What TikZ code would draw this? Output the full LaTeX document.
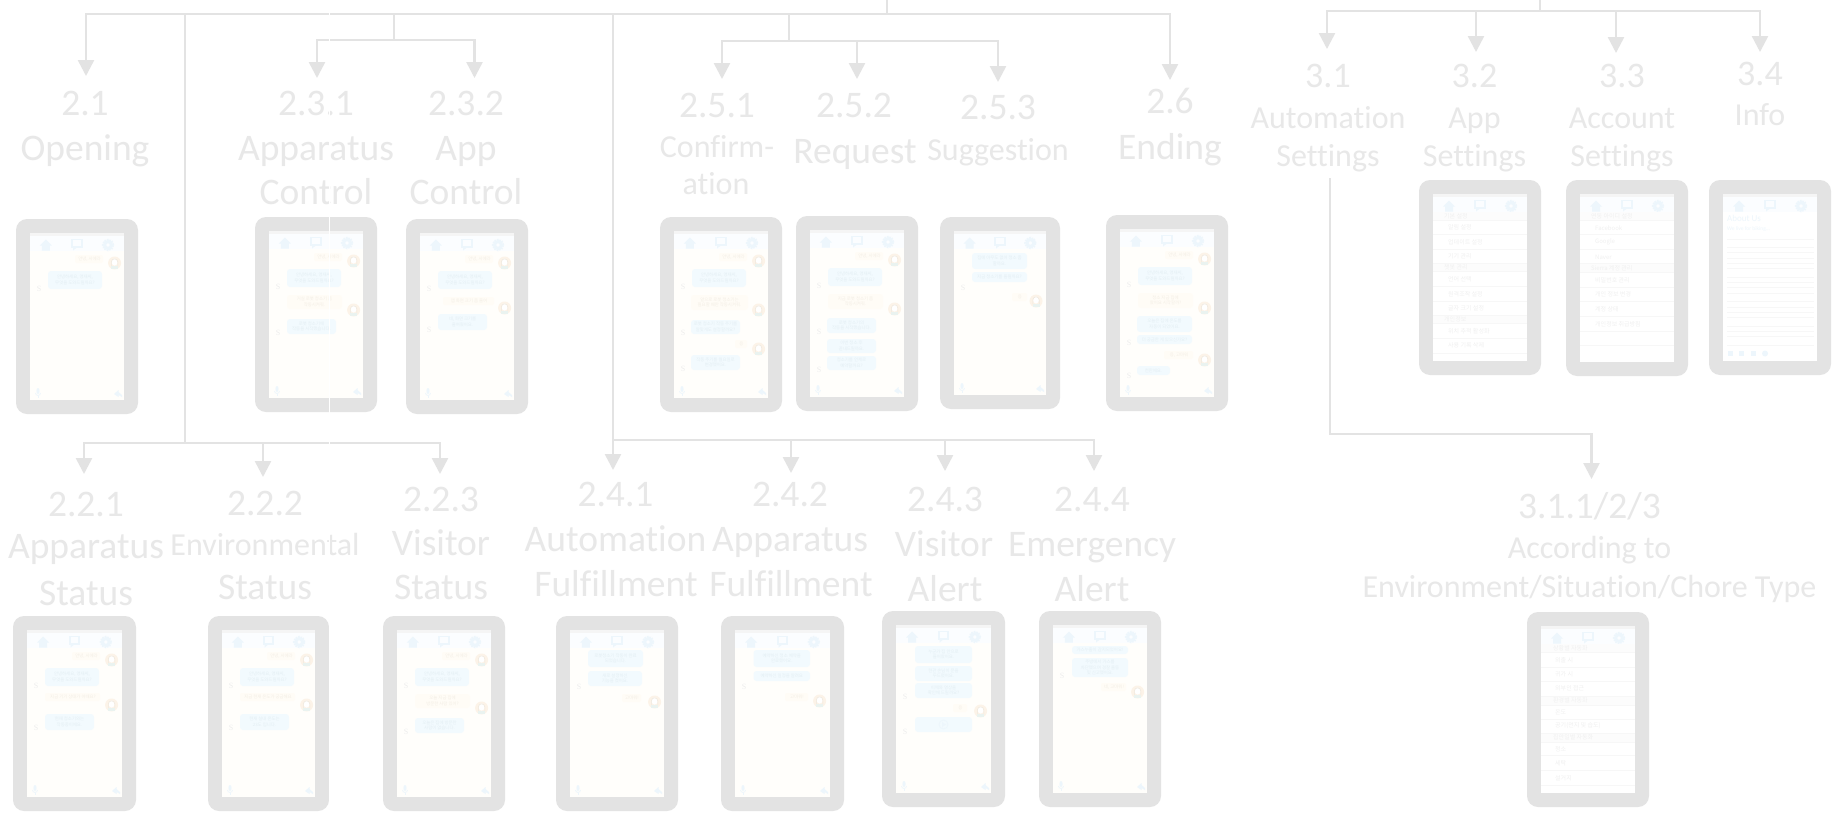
\documentclass[tikz,border=0pt]{standalone}
\usepackage{fontspec}
\setmainfont[Ligatures=NoCommon]{Carlito}
\newfontfamily\krf{Noto Sans CJK KR}
\usetikzlibrary{arrows.meta}
\definecolor{fr}{HTML}{E3E3E3}
\definecolor{lbl}{HTML}{E8E8E8}
\definecolor{scr}{HTML}{FFFEFB}
\definecolor{nav}{HTML}{FBFDFF}
\definecolor{ico}{HTML}{EDF6FC}
\definecolor{sbc}{HTML}{F2FAFE}
\definecolor{ubc}{HTML}{FFFCF6}
\definecolor{stx}{HTML}{E3EEF3}
\definecolor{utx}{HTML}{F3EEE5}
\definecolor{sss}{HTML}{EDEDED}
\definecolor{rowt}{HTML}{F0F0F0}
\definecolor{sep}{HTML}{F7F7F7}
\definecolor{hdr}{HTML}{FCFCFC}
\definecolor{avc}{HTML}{FCF3E8}
\definecolor{avh}{HTML}{EFE9DF}
\definecolor{avs}{HTML}{EAF3F0}
\newcounter{tx}
\tikzset{
  lab/.style={anchor=base,inner sep=0pt,text=lbl},
  conn/.style={draw=fr,line width=2.5pt},
  arr/.style={conn,-{Triangle[length=16pt,width=16pt,fill=fr]}},
  tiny/.style={inner sep=0pt,align=center},
}
\newcommand\lab[6]{\node[lab,font=\fontsize{#4}{#4}\selectfont] (#1) at (#2,#3) {#5#6};}
\newcommand\pNav{%
  \fill[nav] (0,0) rectangle (\sw,18);
  \fill[fr!35] (0,0) rectangle (\sw,2.5);
  % home
  \fill[ico] ({\sw*.17-6},12.5) -- ({\sw*.17},6.5) -- ({\sw*.17+6},12.5) -- ({\sw*.17+4},12.5) -- ({\sw*.17+4},17.5) -- ({\sw*.17-4},17.5) -- ({\sw*.17-4},12.5) -- cycle;
  % chat
  \draw[ico,line width=1.8pt] ({\sw*.5-4.8},6.5) rectangle ({\sw*.5+4.8},14);
  \fill[ico] ({\sw*.5-4},14) -- ({\sw*.5-4},17.5) -- ({\sw*.5+.5},14) -- cycle;
  % gear
  \draw[ico,line width=3pt] ({\sw*.83},12) circle (3.4pt);
  \draw[ico,line width=1.6pt,densely dotted] ({\sw*.83},12) circle (5.4pt);
}
\newcommand\pBot{%
  \fill[ico] (8,{\sh-9}) ellipse (1.6pt and 3pt);
  \draw[ico,line width=.7pt] (8,{\sh-4}) -- (8,{\sh-2});
  \draw[ico,line width=.7pt] (5.5,{\sh-7}) arc (180:360:2.5pt);
  \fill[ico] ({\sw-10},{\sh-6}) -- ({\sw-5.5},{\sh-10}) -- ({\sw-5.5},{\sh-8}) -- ({\sw-2},{\sh-5}) -- ({\sw-2},{\sh-3}) -- ({\sw-5.5},{\sh-5}) -- ({\sw-5.5},{\sh-3}) -- cycle;
}
\newcommand\phone[6]{%
  \fill[fr,rounded corners=11pt] (#2,#3) rectangle (#4,#5);
  \pgfmathsetmacro\sw{#4-#2-28}\pgfmathsetmacro\sh{#5-#3-28}%
  \begin{scope}[shift={({#2+14},{#3+14})}]
    \fill[scr] (0,0) rectangle (\sw,\sh);
    #6
  \end{scope}
  \coordinate (#1) at ({(#2+#4)/2},#3);
}
\newcommand\pT[4]{\stepcounter{tx}\node[tiny,font=\krf\fontsize{4.4}{5.6}\selectfont,text=#4] (tx\arabic{tx}) at ({#1},{#2}) {#3};}
\newcommand\sbub[5]{\fill[sbc,rounded corners=3pt] (#1,#2) rectangle (#3,#4);\pT{(#1+#3)/2}{(#2+#4)/2}{#5}{stx}}
\newcommand\ubub[5]{\fill[ubc,rounded corners=3pt] (#1,#2) rectangle (#3,#4);\pT{(#1+#3)/2}{(#2+#4)/2}{#5}{utx}}
\newcommand\usay[4]{\fill[ubc,rounded corners=2pt] ({#1-2},{#3-4}) rectangle ({#2+1},{#3+4});\pT{(#1+#2)/2}{#3}{#4}{utx}}
\newcommand\avt[2][84.6]{%
  \fill[avc] (#1,#2) circle (6.5pt);
  \fill[white] (#1,{#2-1}) ellipse (3pt and 3.6pt);
  \draw[avh,line width=.6pt] ({#1-3.2},{#2+3}) -- ({#1-3.2},{#2-1}) arc (180:0:3.2pt) -- ({#1+3.2},{#2+3});
  \fill[avs] ({#1-3.5},{#2+5.5}) rectangle ({#1+3.5},{#2+3});
}
\newcommand\essS[1]{\stepcounter{tx}\node[tiny,font=\fontspec{Liberation Serif}\fontsize{8}{8}\selectfont,text=sss] (tx\arabic{tx}) at (9,#1) {S};}
\newcommand\pGreet{%
  \usay{47}{72}{26}{안녕, 시에라}\avt{30}
  \sbub{18}{38}{72}{56}{안녕하세요, 영재씨,\\무엇을 도와드릴까요?}\essS{56}}
\newcommand\pHead[4][11]{\fill[hdr] (0,#2) rectangle (\sw,#3);\stepcounter{tx}\node[anchor=west,inner sep=0pt,font=\krf\fontsize{6}{6}\selectfont,text=rowt] (tx\arabic{tx}) at (#1,{(#2+#3)/2}) {#4};}
\newcommand\pRow[3][15]{\stepcounter{tx}\node[anchor=west,inner sep=0pt,font=\krf\fontsize{6}{6}\selectfont,text=rowt] (tx\arabic{tx}) at (#1,#2) {#3};}
\newcommand\pSep[1]{\foreach \q in {#1}{\draw[sep,line width=.6pt] (0,\q) -- (\sw,\q);}}
\newcommand\pPara[1]{\foreach \q in {#1}{\draw[sep,line width=.9pt] (4,\q) -- ({\sw-3},\q);}}
\begin{document}
\begin{tikzpicture}[x=1pt,y=-1pt]
\useasboundingbox (0,0) rectangle (1835,817);
\fill[white] (0,0) rectangle (1835,817);
% ---------- connector coordinates
\coordinate (mTop) at (887,0);
\coordinate (mBus) at (887,14);
\coordinate (a21) at (86,76);
\coordinate (a26) at (1170,80);
\coordinate (d22) at (185,14);
\coordinate (j22) at (185,443);
\coordinate (a221) at (84,474);
\coordinate (a222) at (263,477);
\coordinate (a223) at (440,474);
\coordinate (d23) at (394,14);
\coordinate (j23) at (394,40);
\coordinate (a231) at (317,78);
\coordinate (a232) at (474.5,78);
\coordinate (d24) at (613,14);
\coordinate (a241) at (613,470);
\coordinate (j24) at (613,440);
\coordinate (a242) at (791,473);
\coordinate (a243) at (945,471);
\coordinate (a244) at (1094,471);
\coordinate (d25) at (789,14);
\coordinate (j25) at (789,41);
\coordinate (a251) at (722,79);
\coordinate (a252) at (857,79);
\coordinate (a253) at (998,82);
\coordinate (sTop) at (1540,0);
\coordinate (sBus) at (1540,11);
\coordinate (a31) at (1327,49);
\coordinate (a32) at (1476,52);
\coordinate (a33) at (1616,53);
\coordinate (a34) at (1760,52);
\coordinate (d31) at (1330,178);
\coordinate (a311) at (1591.5,479);
% ---------- connectors
\draw[conn] (mTop) -- (mBus);
\draw[arr] (mBus) -| (a21);
\draw[arr] (mBus) -| (a26);
\draw[conn] (d22) -- (j22);
\draw[arr] (j22) -| (a221);
\draw[arr] (j22) -| (a222);
\draw[arr] (j22) -| (a223);
\draw[conn] (d23) -- (j23);
\draw[arr] (j23) -| (a231);
\draw[arr] (j23) -| (a232);
\draw[arr] (d24) -- (a241);
\draw[arr] (j24) -| (a242);
\draw[arr] (j24) -| (a243);
\draw[arr] (j24) -| (a244);
\draw[conn] (d25) -- (j25);
\draw[arr] (j25) -| (a251);
\draw[arr] (j25) -| (a252);
\draw[arr] (j25) -| (a253);
\draw[conn] (sTop) -- (sBus);
\draw[arr] (sBus) -| (a31);
\draw[arr] (sBus) -| (a32);
\draw[arr] (sBus) -| (a33);
\draw[arr] (sBus) -| (a34);
\draw[arr] (d31) -- (1330,434) -| (a311);
% ---------- labels
\lab{n21}{85}{115}{37.5}{2.1}{}
\lab{t21}{85}{160}{37.5}{Opening}{}
\lab{n231}{316}{115}{37.5}{2.3.1}{}
\lab{t231a}{316}{160}{37.5}{Apparatus}{}
\lab{t231b}{316}{204}{37.5}{Control}{}
\lab{n232}{466}{115}{37.5}{2.3.2}{}
\lab{t232a}{466}{160}{37.5}{App}{}
\lab{t232b}{466}{204}{37.5}{Control}{}
\lab{n251}{717}{117}{37.5}{2.5.1}{}
\lab{t251a}{717}{157}{32}{Confirm-}{}
\lab{t251b}{716}{194}{32}{ation}{}
\lab{n252}{854}{117}{37.5}{2.5.2}{}
\lab{t252}{855}{163}{37.5}{Request}{}
\lab{n253}{998}{119}{37.5}{2.5.3}{}
\lab{t253}{998}{160}{32}{Suggestion}{}
\lab{n26}{1170}{113}{37.5}{2.6}{}
\lab{t26}{1170}{159}{37.5}{Ending}{}
\lab{n31}{1328}{87}{36}{3.1}{}
\lab{t31a}{1328}{128}{32}{Automation}{}
\lab{t31b}{1328}{166}{32}{Settings}{}
\lab{n32}{1474.5}{87}{36}{3.2}{}
\lab{t32a}{1474.5}{128}{32}{App}{}
\lab{t32b}{1474.5}{166}{32}{Settings}{}
\lab{n33}{1622}{87}{36}{3.3}{}
\lab{t33a}{1622}{128}{32}{Account}{}
\lab{t33b}{1622}{166}{32}{Settings}{}
\lab{n34}{1760}{85}{36}{3.4}{}
\lab{t34}{1760}{125}{32}{Info}{}
\lab{n221}{86}{516}{37.5}{2.2.1}{}
\lab{t221a}{86}{558}{37.5}{Apparatus}{}
\lab{t221b}{86}{605}{37.5}{Status}{}
\lab{n222}{265}{515}{37.5}{2.2.2}{}
\lab{t222a}{265}{555}{32}{Environmental}{}
\lab{t222b}{265}{599}{37.5}{Status}{}
\lab{n223}{441}{511}{37.5}{2.2.3}{}
\lab{t223a}{441}{555}{37.5}{Visitor}{}
\lab{t223b}{441}{599}{37.5}{Status}{}
\lab{n241}{615.5}{506}{37.5}{2.4.1}{}
\lab{t241a}{615.5}{551}{37.5}{Automation}{}
\lab{t241b}{616}{596}{37.5}{Fulfillment}{}
\lab{n242}{790}{506}{37.5}{2.4.2}{}
\lab{t242a}{790}{551}{37.5}{Apparatus}{}
\lab{t242b}{791}{596}{37.5}{Fulfillment}{}
\lab{n243}{945}{511}{37.5}{2.4.3}{}
\lab{t243a}{944}{556}{37.5}{Visitor}{}
\lab{t243b}{945}{601}{37.5}{Alert}{}
\lab{n244}{1092}{511}{37.5}{2.4.4}{}
\lab{t244a}{1092}{556}{37.5}{Emergency}{}
\lab{t244b}{1092}{601}{37.5}{Alert}{}
\lab{n311}{1589.5}{518}{37.5}{3.1.1/2/3}{}
\lab{t311a}{1589.5}{558}{32}{According to}{}
\lab{t311b}{1589.5}{597}{32}{Environment/Situation/Chore Type}{}
% ---------- phones
\phone{p21}{16}{219}{138}{414}{\pNav\pGreet\pBot}
\phone{p231}{255}{217}{377}{412}{\pNav\pGreet
  \ubub{18}{64}{73}{78}{거실 로봇 청소기 좀\\작동시켜줘.}\avt{79}
  \sbub{18}{88}{67}{103}{로봇 청소기에\\작동을 시작했습니다.}\essS{102}\pBot}
\phone{p232}{406}{219}{528}{414}{\pNav\pGreet
  \usay{25}{73}{68}{앱 화면 크기 좀 줄여}\avt{75}
  \sbub{18}{81}{67}{97}{네, 화면 크기를\\줄여줬어요.}\essS{97}\pBot}
\phone{p251}{660}{217}{782}{412}{\pNav\pGreet
  \ubub{17}{64}{74}{79}{앞으로 로봇 청소기는\\필요할 때만 작동시켜줘.}\avt{79}
  \sbub{17}{89}{66}{103}{로봇 청소기 작동 주기를\\알맞게도 설정할까요?}\essS{102}
  \usay{63}{72}{113}{응}\avt{118}
  \sbub{17}{124}{66}{139}{작동 주기를 월요일로\\변경했어요.}\essS{138}\pBot}
\phone{p252}{796}{216}{918}{411}{\pNav\pGreet
  \ubub{18}{64}{73}{79}{지금 로봇 청소기 좀\\작동시켜줘.}\avt{79}
  \sbub{17}{88}{66}{103}{로봇 청소기의\\작동을 시작했습니다.}\essS{102}
  \sbub{17}{109}{66}{123}{이번 청소 후\\끝내드릴까요.}
  \sbub{17}{126}{66}{140}{청소기를 언제로\\예약할까요?}\essS{140}\pBot}
\phone{p253}{940}{217}{1060}{409}{\pNav
  \sbub{18}{22}{73}{38}{집에 아무도 없어 청소 좀\\할까요.}
  \sbub{18}{41}{73}{51}{지금 청소기를 돌릴까요?}\essS{57}
  \usay{60}{72}{66}{응}\avt[82]{70}\pBot}
\phone{p26}{1106}{215}{1228}{411}{\pNav\pGreet
  \ubub{18}{64}{73}{79}{청소 지금 집에\\왔어요 시작할까?}\avt{79}
  \sbub{17}{87}{72}{103}{오늘은 집에 온도를\\자동이 되었어요.}
  \sbub{17}{106}{72}{115}{더 궁금한 게 있으신가요?}\essS{114}
  \usay{46}{72}{126}{응, 고마워}\avt{131}
  \sbub{17}{137}{50}{146}{천만에요.}\essS{147}\pBot}
\phone{p221}{13}{616}{136}{811}{\pNav\pGreet
  \usay{20}{72}{67}{지금 기기 상태가 어때요?}\avt{75}
  \sbub{18}{84}{67}{100}{현재 청소기와는\\작동중이에요.}\essS{98}\pBot}
\phone{p222}{208}{616}{329}{811}{\pNav\pGreet
  \usay{20}{72}{67}{지금 현재 온도가 궁금해요}\avt{75}
  \sbub{18}{84}{67}{100}{현재 실내 온도는\\23도 입니다.}\essS{98}\pBot}
\phone{p223}{383}{616}{505}{811}{\pNav\pGreet
  \ubub{18}{64}{73}{78}{오늘 지금 집에\\방문한 사람 있어?}\avt{78}
  \sbub{18}{88}{67}{103}{오늘은 집에 방문한\\사람이 없습니다.}\essS{102}\pBot}
\phone{p241}{556}{616}{678}{811}{\pNav
  \sbub{18}{20}{73}{37}{로봇청소기 작동이 완료\\되었습니다.}
  \sbub{18}{41}{72}{56}{새로 설정하신\\기능을 켰어요.}\essS{57}
  \usay{54}{70}{68}{고마워!}\avt{72}\pBot}
\phone{p242}{721}{616}{844}{811}{\pNav
  \sbub{18.5}{20}{75}{37}{예약하신 청소 예약을\\완료했어요.}
  \sbub{18.5}{41}{75}{51}{예약하신 일정을 알려요}\essS{57}
  \usay{52}{72}{67}{고마워!}\avt{71}\pBot}
\phone{p243}{882}{611}{1005}{807}{\pNav
  \sbub{19}{21}{76}{38}{누군가 집 안으로\\들어왔어요.}
  \sbub{19}{41}{76}{56}{현관 손님이 문을\\두드렸어요.}
  \sbub{19}{58}{76}{73}{이제와 영상을\\확인해 드릴까요?}\essS{72}
  \usay{59}{70}{83}{응}\avt{86}
  \sbub{19}{92}{76}{107}{}\essS{107}
  \draw[ico,line width=.8pt] (47.5,99.5) circle (4.5pt);
  \fill[ico] (46,97) -- (50,99.5) -- (46,102) -- cycle;\pBot}
\phone{p244}{1039}{611}{1161}{807}{\pNav
  \sbub{19}{21}{75}{29}{가스누출이 감지되었어요!}
  \sbub{19}{33}{75}{52}{주방에서 가스를\\차단했으며 경찰 출동\\및 신고했어요.}\essS{51}
  \usay{50}{72}{62}{네, 고마워!}\avt{67}\pBot}
% settings screens
\phone{p32}{1419}{180}{1541}{375}{\fill[white] (0,0) rectangle (\sw,\sh);\pNav
  \pHead{18}{26}{기본 설정}
  \pRow{33}{알림 설정}\pRow{48}{업데이트 설정}\pRow{62}{기기 관리}
  \pHead{69.5}{77.5}{챗봇 관리}
  \pRow{85}{언어 선택}\pRow{100}{원격조작 설정}\pRow{114}{글자 크기 설정}
  \pHead{121}{129}{개인정보}
  \pRow{137}{위치 추적 활성화}\pRow{151}{사용 기록 삭제}
  \pSep{26,40,55,69.5,77.5,92.7,107,121,129,144,159}}
\phone{p33}{1566}{180}{1688}{376}{\fill[white] (0,0) rectangle (\sw,\sh);\pNav
  \pHead{18}{26.7}{연동 아이디 설정}
  \pRow{34}{Facebook}\pRow{48}{Google}\pRow{63}{Naver}
  \pHead{69.7}{78}{Sierra 계정 관리}
  \pRow{86}{비밀번호 관리}\pRow{100}{개인 정보 변경}\pRow{115}{계정 상태}\pRow{130}{개인정보 취급방침}
  \pSep{26.7,40.7,55,69.7,78,93,107,122,137,151}}
\phone{p34}{1709}{180}{1831}{375}{\fill[white] (0,0) rectangle (\sw,\sh);\pNav
  \stepcounter{tx}\node[anchor=west,inner sep=0pt,font=\fontsize{9}{9}\selectfont,text=ico] (tx\arabic{tx}) at (4,24) {About Us};
  \stepcounter{tx}\node[anchor=west,inner sep=0pt,font=\fontsize{5.5}{5.5}\selectfont,text=ico] (tx\arabic{tx}) at (4,35) {We live for biking...};
  \pPara{45,53,58,64,69,74,83,88,93,99,107,113,118,123,132,137,142,151}
  \fill[ico] (5,157) rectangle (10,162);
  \fill[ico] (16,157) rectangle (21,162);
  \fill[ico] (28,157) rectangle (33,162);
  \fill[ico] (42,159.5) circle (3pt);}
\phone{p311}{1527}{612}{1649}{807}{\fill[white] (0,0) rectangle (\sw,\sh);\pNav
  \pHead[12]{18}{26}{상황별 자동화}
  \pRow[14]{34}{외출 시}\pRow[14]{48}{귀가 시}\pRow[14]{62}{외부인 접근}
  \pHead[12]{70}{79}{환경별 자동화}
  \pRow[14]{86}{온도}\pRow[14]{100}{공기(먼지 및 습도)}
  \pHead[12]{107}{116}{집안일별 자동화}
  \pRow[14]{123}{청소}\pRow[14]{137}{세탁}\pRow[14]{152}{설거지}
  \pSep{26,41,55,70,79,93,107,116,129,144,159}}
% seam
\draw[white,line width=.8pt] (329,0) -- (329,817);
\end{tikzpicture}
\end{document}
